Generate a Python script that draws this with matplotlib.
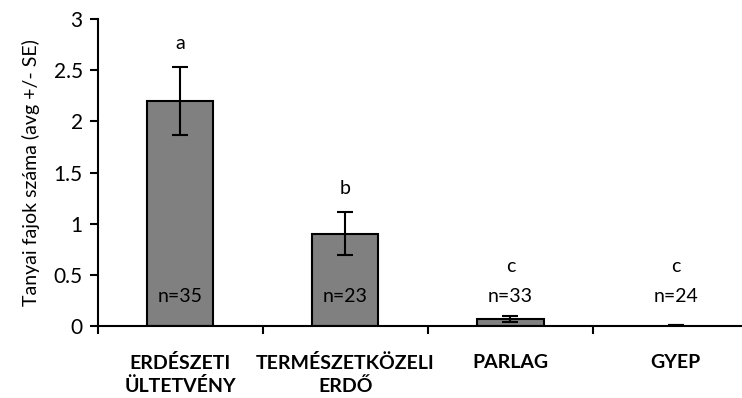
import matplotlib.pyplot as plt
import numpy as np

plt.rcParams['font.family'] = ['Lato', 'DejaVu Sans']

categories = ['ERDÉSZETI\nÜLTETVÉNY', 'TERMÉSZETKÖZELI\nERDŐ', 'PARLAG', 'GYEP']
means = [2.2, 0.9, 0.065, 0.01]
se = [0.33, 0.21, 0.03, 0.0]
letters = ['a', 'b', 'c', 'c']
n_labels = ['n=35', 'n=23', 'n=33', 'n=24']

fig = plt.figure(figsize=(7.42, 3.98), dpi=100)
ax = fig.add_axes([0.132, 0.181, 0.8896, 0.771])

x = np.arange(len(categories))
# near-zero bars get no outline so only the error cap remains
edge_w = [1.5 if m > 0.03 else 0 for m in means]
ax.bar(x, means, width=0.4, color='#808080', edgecolor='black', linewidth=edge_w, zorder=2)
ax.errorbar(x, means, yerr=se, fmt='none', ecolor='black', elinewidth=1.5,
            capsize=6, capthick=1.5, zorder=3)

# significance letters sit above the error bar, or at a fixed height for the small bars
for i in range(len(categories)):
    top = means[i] + se[i]
    ly = top + 0.23 if top > 0.5 else 0.58
    ax.text(x[i], ly, letters[i], ha='center', va='center', fontsize=14)
    ax.text(x[i], 0.29, n_labels[i], ha='center', va='center', fontsize=14, zorder=4)

ax.set_xlim(-0.5, 3.5)
ax.set_ylim(0, 3)
ax.set_yticks([0, 0.5, 1, 1.5, 2, 2.5, 3])
ax.set_yticklabels(['0', '0.5', '1', '1.5', '2', '2.5', '3'])
ax.set_xticks(x)
ax.set_xticklabels(categories, fontweight='bold', fontsize=14, linespacing=1.35)
ax.set_xticks([-0.5, 0.5, 1.5, 2.5, 3.5], minor=True)
ax.tick_params(axis='x', which='major', length=0, pad=20)
ax.tick_params(axis='x', which='minor', length=6, width=1.5, direction='out')
ax.tick_params(axis='y', length=6, width=1.5, direction='out', labelsize=15, pad=5)
ax.set_ylabel('Tanyai fajok száma (avg +/- SE)', fontsize=14, labelpad=10)

for s in ['top', 'right']:
    ax.spines[s].set_visible(False)
for s in ['left', 'bottom']:
    ax.spines[s].set_linewidth(1.5)

fig.savefig('out.png', dpi=100)
